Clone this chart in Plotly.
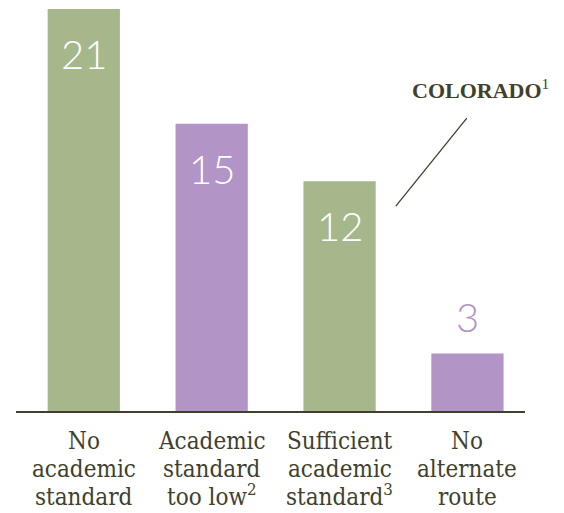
import plotly.graph_objects as go

category_lines = [["No", "academic", "standard"],
                  ["Academic", "standard", "too low<sup>2</sup>"],
                  ["Sufficient", "academic", "standard<sup>3</sup>"],
                  ["No", "alternate", "route"]]
values = [21, 15, 12, 3]
bar_colors = ["#a6b78c", "#b294c7", "#a6b78c", "#b294c7"]
label_inside = [True, True, True, False]
text_color = "#413f2d"
cat_font = "DejaVu Serif Condensed, DejaVu Serif"

xs = list(range(len(values)))
fig = go.Figure()
fig.add_trace(go.Bar(x=xs, y=values, marker=dict(color=bar_colors, line=dict(width=0)),
                     width=0.565, hoverinfo="skip"))

for x, v, c, inside in zip(xs, values, bar_colors, label_inside):
    fig.add_annotation(x=x, y=v, text=str(v), showarrow=False, yanchor="middle",
                       yshift=-45 if inside else 37,
                       font=dict(family="Lato Light, Lato", size=40, weight=300,
                                 color="white" if inside else c))

for x, lines in zip(xs, category_lines):
    for i, line in enumerate(lines):
        fig.add_annotation(x=x, y=0, yref="y", text=line, showarrow=False,
                           yanchor="bottom", yshift=-46 - 28 * i,
                           font=dict(family=cat_font, size=24, color=text_color))

fig.add_annotation(x=3.1, y=16.8, text="<b>COLORADO</b><sup>1</sup>", showarrow=False,
                   font=dict(family="Liberation Serif", size=22, color=text_color))
fig.add_shape(type="line", x0=2.995, y0=15.3, x1=2.44, y1=10.7,
              line=dict(color=text_color, width=1.3))

fig.update_layout(
    width=556, height=505, margin=dict(l=8, r=39, t=0, b=102, autoexpand=False),
    plot_bgcolor="white", paper_bgcolor="white", showlegend=False,
    xaxis=dict(range=[-0.53, 3.45], showticklabels=False, automargin=False,
               showgrid=False, zeroline=False, showline=True, linecolor=text_color,
               linewidth=2, ticks=""),
    yaxis=dict(range=[0, 21.05], visible=False, showgrid=False, zeroline=False,
               automargin=False),
)
fig.write_html("out.html")
